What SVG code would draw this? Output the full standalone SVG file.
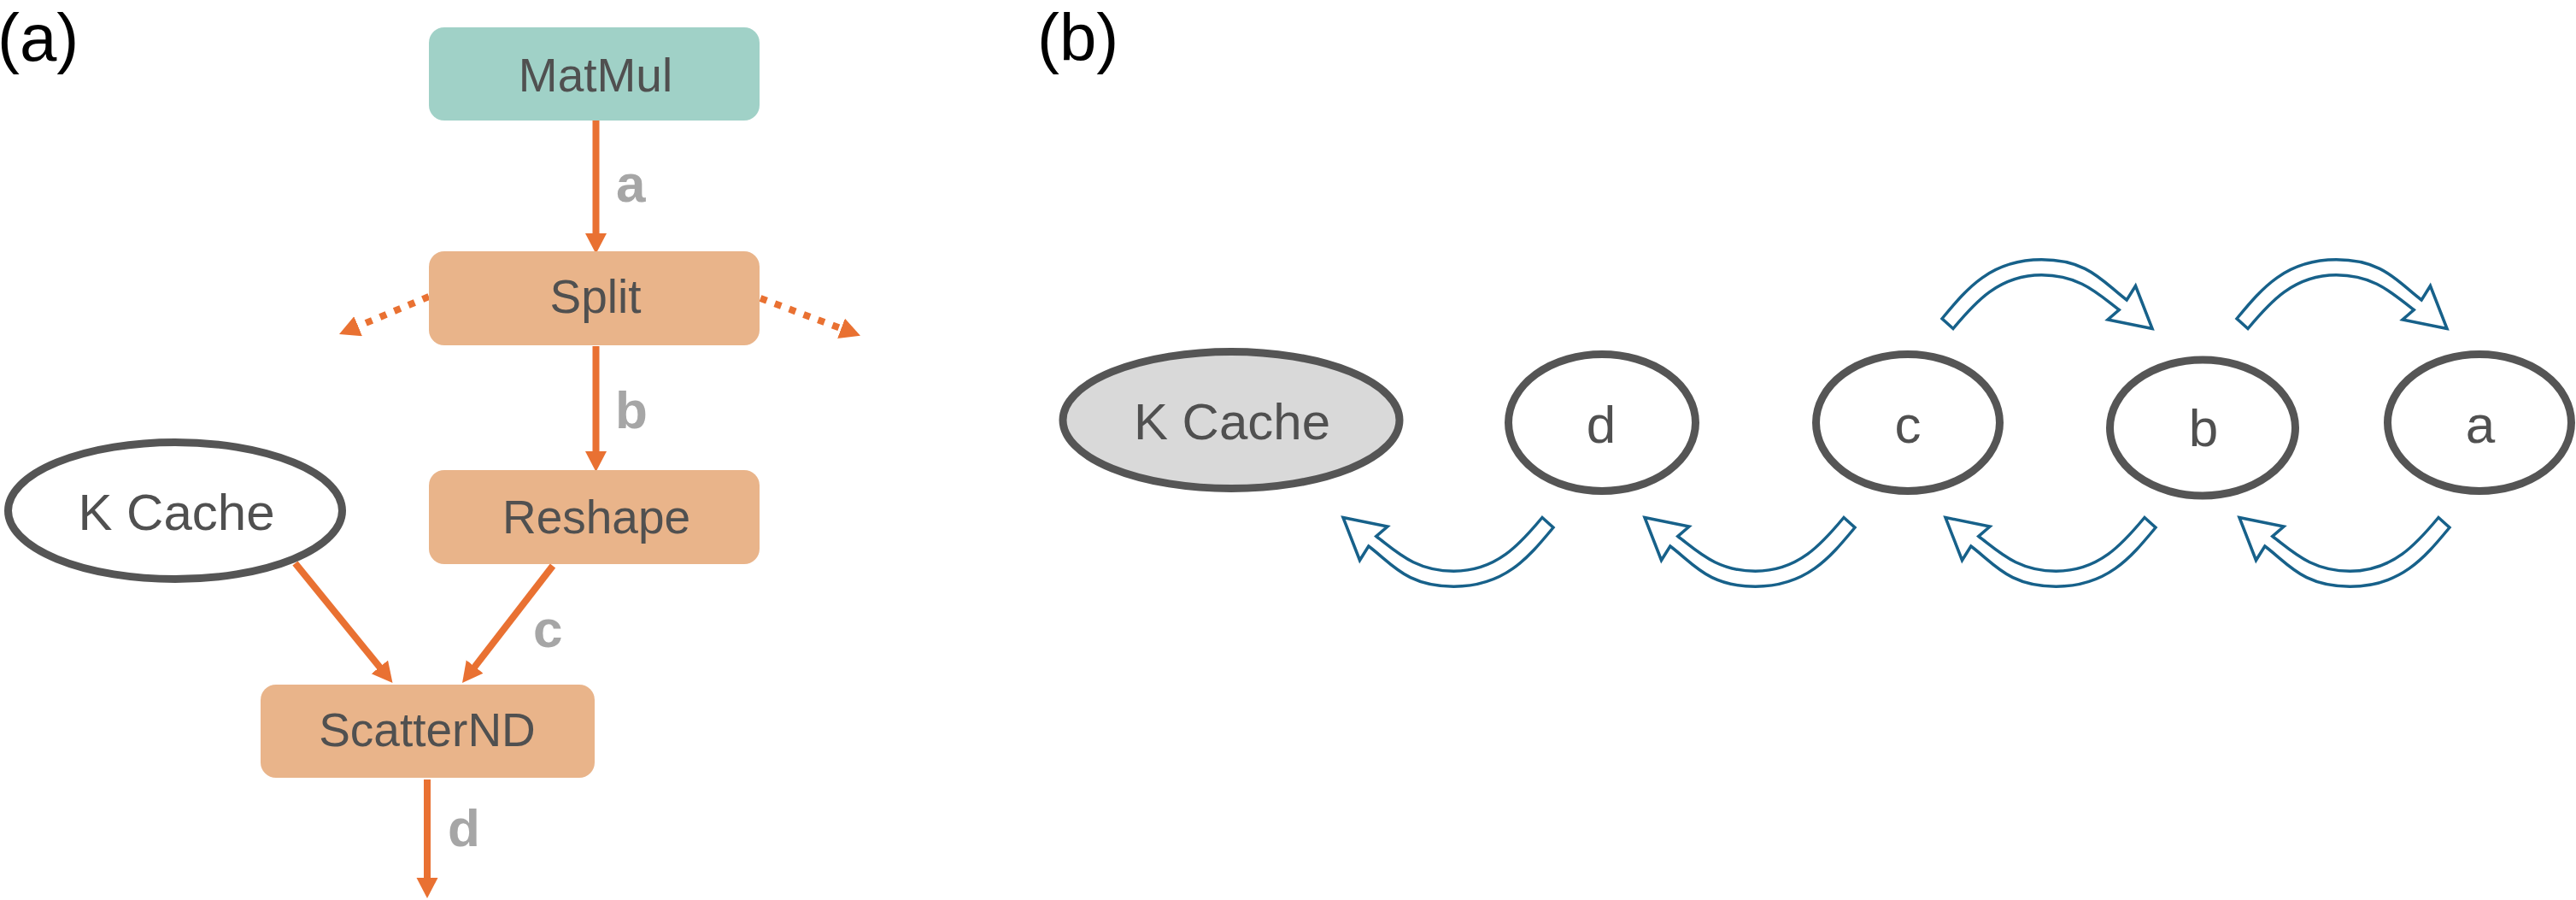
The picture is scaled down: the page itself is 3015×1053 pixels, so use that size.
<svg xmlns="http://www.w3.org/2000/svg" xmlns:xlink="http://www.w3.org/1999/xlink" width="3015" height="1053" viewBox="0 0 3015 1053">
<defs>
<style>
text{font-family:"Liberation Sans",Arial,sans-serif;}
.panel{font-size:78px;fill:#000;}
.lbl{font-size:55px;fill:#505050;text-anchor:middle;}
.big{font-size:60px;fill:#505050;text-anchor:middle;}
.let{font-size:62px;fill:#505050;text-anchor:middle;}
.edge{font-size:62px;font-weight:bold;fill:#A6A6A6;}
.teal{fill:#A0D1C7;}
.peach{fill:#E9B48A;}
.ell{fill:#fff;stroke:#555;stroke-width:9;}
.ellg{fill:#D9D9D9;stroke:#555;stroke-width:9;}
.ar{stroke:#E97132;stroke-width:8;fill:none;}
.dot{stroke:#E97132;stroke-width:8;fill:none;stroke-dasharray:8 10;}
.curv{fill:#fff;stroke:#17618A;stroke-width:3.5;stroke-linejoin:miter;}
</style>
<marker id="ah" markerUnits="userSpaceOnUse" markerWidth="25" markerHeight="26" refX="2" refY="12.5" orient="auto" viewBox="0 0 25 26">
<path d="M0,0 L24,12.5 L0,25 Z" fill="#E97132"/>
</marker>
<path id="carrow" d="M0,0 L52,10.5 L38.8,22 C62.8,40 84.5,62.7 129.5,62.7 C179.5,62.7 207.4,30.8 233,0 L246,11.7 C217.2,46.4 189.5,80.7 129.5,80.7 C74.5,80.7 57.8,54.5 29.8,33.5 L19.5,50 Z"/>
</defs>
<rect width="3015" height="1053" fill="#fff"/>

<text class="panel" x="-3" y="71">(a)</text>
<text class="panel" x="1214" y="71">(b)</text>

<g id="connectors-a">
<line class="ar" x1="697.5" y1="141" x2="697.5" y2="275" marker-end="url(#ah)"/>
<line class="ar" x1="697.5" y1="405" x2="697.5" y2="530" marker-end="url(#ah)"/>
<line class="ar" x1="345.5" y1="659" x2="445.6" y2="782" marker-end="url(#ah)"/>
<line class="ar" x1="647" y1="662" x2="554.5" y2="781.6" marker-end="url(#ah)"/>
<line class="ar" x1="500" y1="912" x2="500" y2="1029" marker-end="url(#ah)"/>
<line class="dot" x1="502" y1="347" x2="417.3" y2="382.5" marker-end="url(#ah)"/>
<line class="dot" x1="890" y1="349" x2="986.4" y2="385" marker-end="url(#ah)"/>
<text class="edge" x="721" y="236">a</text>
<text class="edge" x="720" y="501">b</text>
<text class="edge" x="624" y="757">c</text>
<text class="edge" x="524" y="990">d</text>
</g>

<g id="node-matmul">
<rect class="teal" x="502" y="32" width="387" height="109" rx="18"/>
<text class="lbl" x="697" y="107">MatMul</text>
</g>
<g id="node-split">
<rect class="peach" x="502" y="294" width="387" height="110" rx="18"/>
<text class="lbl" x="697" y="366">Split</text>
</g>
<g id="node-reshape">
<rect class="peach" x="502" y="550" width="387" height="110" rx="18"/>
<text class="lbl" x="698" y="624">Reshape</text>
</g>
<g id="node-scatternd">
<rect class="peach" x="305" y="801" width="391" height="109" rx="18"/>
<text class="lbl" x="500" y="873">ScatterND</text>
</g>
<g id="node-kcache-a">
<ellipse class="ell" cx="205" cy="597.5" rx="195.5" ry="80"/>
<text class="big" x="206.5" y="620">K Cache</text>
</g>

<g id="connectors-b">
<use xlink:href="#carrow" href="#carrow" class="curv" transform="translate(2519,384.5) rotate(180)"/>
<use xlink:href="#carrow" href="#carrow" class="curv" transform="translate(2864,384.5) rotate(180)"/>
<use xlink:href="#carrow" href="#carrow" class="curv" transform="translate(1572,605.5)"/>
<use xlink:href="#carrow" href="#carrow" class="curv" transform="translate(1925,605.5)"/>
<use xlink:href="#carrow" href="#carrow" class="curv" transform="translate(2277,605.5)"/>
<use xlink:href="#carrow" href="#carrow" class="curv" transform="translate(2621,605.5)"/>
</g>

<g id="node-kcache-b">
<ellipse class="ellg" cx="1441" cy="491.5" rx="197" ry="80"/>
<text class="big" x="1442" y="514">K Cache</text>
</g>
<g id="node-d">
<ellipse class="ell" cx="1875" cy="494.5" rx="109.5" ry="80"/>
<text class="let" x="1874" y="518">d</text>
</g>
<g id="node-c">
<ellipse class="ell" cx="2233" cy="494.5" rx="107.5" ry="80"/>
<text class="let" x="2233" y="518">c</text>
</g>
<g id="node-b">
<ellipse class="ell" cx="2578" cy="500.5" rx="108.5" ry="79.5"/>
<text class="let" x="2579" y="522">b</text>
</g>
<g id="node-a">
<ellipse class="ell" cx="2902" cy="494.5" rx="107.5" ry="80"/>
<text class="let" x="2903" y="518">a</text>
</g>
</svg>
